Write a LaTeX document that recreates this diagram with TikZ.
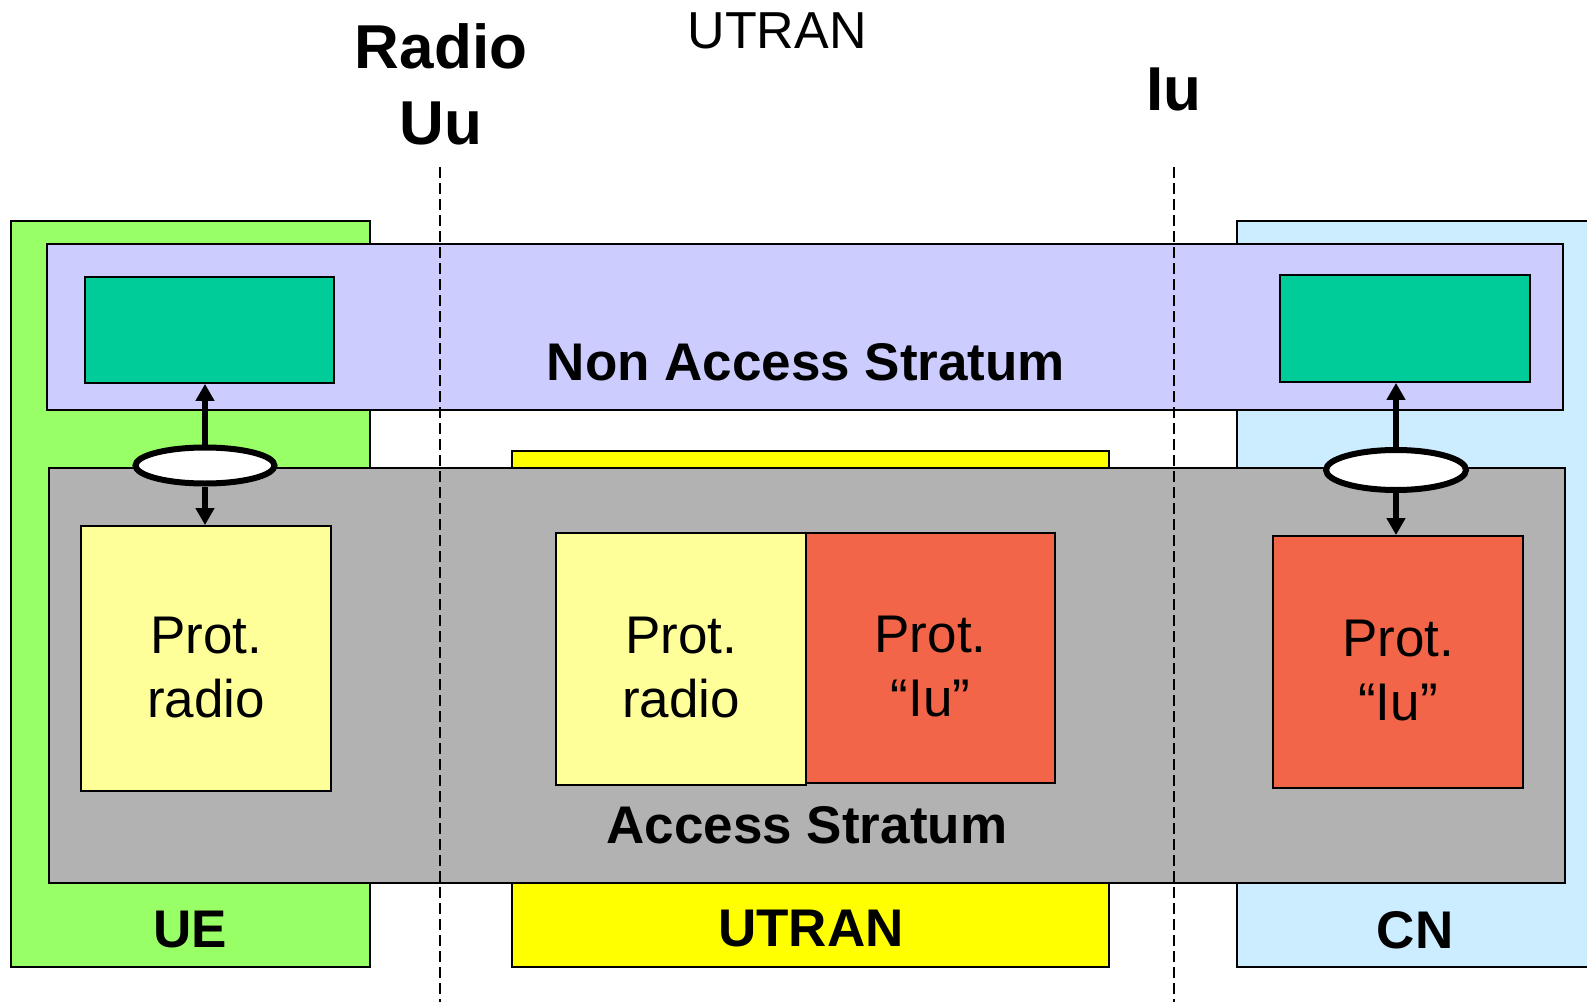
\documentclass[tikz,border=0pt]{standalone}
\usepackage{fontspec}
\setmainfont{Liberation Sans}
\usetikzlibrary{shapes.geometric,arrows.meta}
\definecolor{uegreen}{HTML}{99FF66}
\definecolor{utranyellow}{HTML}{FFFF00}
\definecolor{cnblue}{HTML}{CCECFF}
\definecolor{naslilac}{HTML}{CCCCFF}
\definecolor{asgray}{HTML}{B2B2B2}
\definecolor{nasteal}{HTML}{00CC99}
\definecolor{paleyellow}{HTML}{FFFF99}
\definecolor{protred}{HTML}{F26548}
\tikzset{
  rectbox/.style={draw=black, line width=1.8pt, rectangle, inner sep=0pt},
  bigbold/.style={font=\fontsize{62}{70}\selectfont\bfseries, inner sep=0pt, anchor=base},
  lbl/.style={font=\fontsize{53}{60}\selectfont\bfseries, inner sep=0pt, anchor=base},
  protlbl/.style={font=\fontsize{53}{64}\selectfont, align=center, inner sep=0pt},
  sap/.style={ellipse, draw=black, fill=white, line width=6pt, inner sep=0pt},
  sapline/.style={line width=6pt, -{Triangle[width=18pt,length=17pt]}},
  iface/.style={line width=2.6pt, dash pattern=on 11pt off 5pt},
}
\begin{document}
\begin{tikzpicture}[x=1pt,y=-1pt]
\path[use as bounding box, clip] (0,0) rectangle (1587,1008);
% domain boxes
\node[rectbox, fill=uegreen, minimum width=359pt, minimum height=746pt] (ue) at (190.5,594) {};
\node[rectbox, fill=utranyellow, minimum width=597pt, minimum height=516pt] (utran) at (810.5,709) {};
\node[rectbox, fill=cnblue, minimum width=363pt, minimum height=746pt] (cn) at (1418.5,594) {};
% strata
\node[rectbox, fill=naslilac, minimum width=1516pt, minimum height=166pt] (nas) at (805,327) {};
\node[rectbox, fill=asgray, minimum width=1516pt, minimum height=415pt] (as) at (807,675.5) {};
% NAS entities
\node[rectbox, fill=nasteal, minimum width=249pt, minimum height=106pt] (tealL) at (209.5,330) {};
\node[rectbox, fill=nasteal, minimum width=250pt, minimum height=107pt] (tealR) at (1405,328.5) {};
% protocol boxes
\node[rectbox, fill=paleyellow, minimum width=250pt, minimum height=265pt] (protL) at (206,658.5) {};
\node[rectbox, fill=paleyellow, minimum width=250pt, minimum height=252pt] (protM1) at (681,659) {};
\node[rectbox, fill=protred, minimum width=249pt, minimum height=250pt] (protM2) at (930.5,658) {};
\node[rectbox, fill=protred, minimum width=250pt, minimum height=252pt] (protR) at (1398,662) {};
\node[protlbl] (tL) at ([yshift=-9pt]protL.center) {Prot.\\radio};
\node[protlbl] (tM1) at ([yshift=-9pt]protM1.center) {Prot.\\radio};
\node[protlbl] (tM2) at ([yshift=-9pt]protM2.center) {Prot.\\“Iu”};
\node[protlbl] (tR) at ([yshift=-9pt]protR.center) {Prot.\\“Iu”};
% SAPs
\node[sap, minimum width=139pt, minimum height=36pt] (sapL) at (205,465.5) {};
\node[sap, minimum width=140pt, minimum height=40pt] (sapR) at (1396,470) {};
\draw[sapline] (sapL.north) -- (sapL.north |- tealL.south);
\draw[sapline] (sapL.south) -- (sapL.south |- protL.north);
\draw[sapline] (sapR.north) -- (sapR.north |- tealR.south);
\draw[sapline] (sapR.south) -- (sapR.south |- protR.north);
% interfaces
\coordinate (uuTop) at (440,167);
\coordinate (uuBot) at (440,1002);
\coordinate (iuTop) at (1174,167);
\coordinate (iuBot) at (1174,1002);
\draw[iface] (uuTop) -- (uuBot);
\draw[iface] (iuTop) -- (iuBot);
% labels
\node[bigbold] (radio) at (441,69) {Radio};
\node[bigbold] (uu) at (441,145) {Uu};
\node[bigbold] (iu) at (1174,111) {Iu};
\node[font=\fontsize{52}{60}\selectfont, inner sep=0pt, anchor=base] (utranTop) at (777,49) {UTRAN};
\node[lbl] (nasLbl) at (806,380) {Non Access Stratum};
\node[lbl] (asLbl) at (807,843) {Access Stratum};
\node[lbl] (ueLbl) at (190,947) {UE};
\node[lbl] (utranLbl) at (811,946) {UTRAN};
\node[lbl] (cnLbl) at (1415,948) {CN};
\end{tikzpicture}
\end{document}
